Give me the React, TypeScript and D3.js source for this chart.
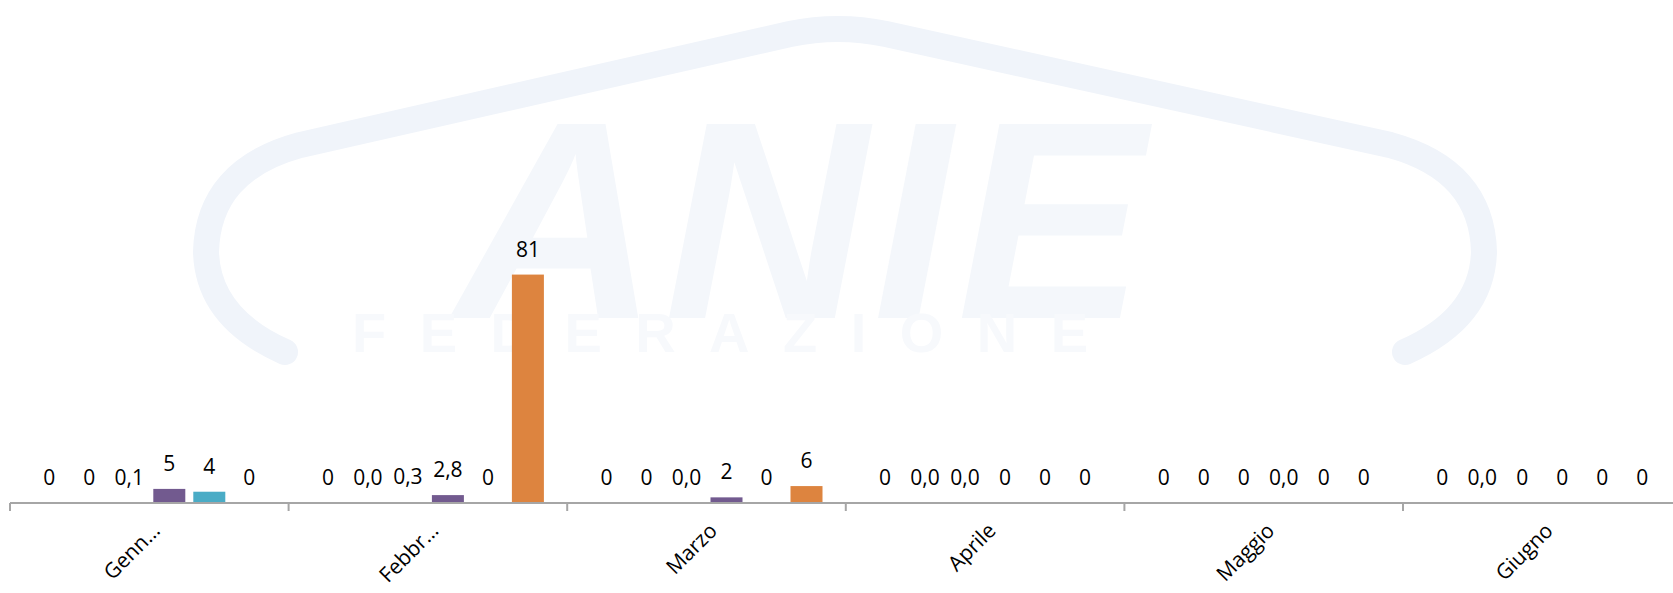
import React from "react";
import * as d3 from "d3";

const categories = ["Genn…", "Febbr…", "Marzo", "Aprile", "Maggio", "Giugno"];
const seriesNames = ["Serie 1", "Serie 2", "Serie 3", "Serie 4", "Serie 5", "Serie 6"];
const seriesColors = ["#4a7ebb", "#be4b48", "#98b954", "#725a8f", "#4aacc6", "#dd843f"];

// values per series, one entry per month
const serie1 = [0, 0, 0, 0, 0, 0];
const serie2 = [0, 0.02, 0, 0.02, 0, 0.02];
const serie3 = [0.1, 0.3, 0.02, 0.02, 0, 0];
const serie4 = [5, 2.8, 2, 0, 0.02, 0];
const serie5 = [4, 0, 0, 0, 0, 0];
const serie6 = [0, 81, 6, 0, 0, 0];

// data labels as shown in the chart
const labels1 = ["0", "0", "0", "0", "0", "0"];
const labels2 = ["0", "0,0", "0", "0,0", "0", "0,0"];
const labels3 = ["0,1", "0,3", "0,0", "0,0", "0", "0"];
const labels4 = ["5", "2,8", "2", "0", "0,0", "0"];
const labels5 = ["4", "0", "0", "0", "0", "0"];
const labels6 = ["0", "81", "6", "0", "0", "0"];

const values = [serie1, serie2, serie3, serie4, serie5, serie6];
const labels = [labels1, labels2, labels3, labels4, labels5, labels6];

const W = 1673;
const H = 593;
const left = 10;
const step = 278.6;
const baseY = 503;

const font = "'Open Sans', 'Liberation Sans', sans-serif";

const Watermark = () => (
  <g>
    <path
      d="M285,352 Q208,318 206,252 Q208,170 300,145 L790,34 Q838,24 886,34 L1390,145 Q1482,170 1484,252 Q1482,318 1405,352"
      fill="none"
      stroke="#f0f4fa"
      strokeWidth={26}
      strokeLinecap="round"
    />
    <text
      x={455}
      y={318}
      fontFamily="'Liberation Sans', sans-serif"
      fontWeight="bold"
      fontStyle="italic"
      fontSize={282}
      fill="#f4f7fb"
      textLength={690}
    >
      ANIE
    </text>
    <text
      x={352}
      y={352}
      fontFamily="'Liberation Sans', sans-serif"
      fontWeight="bold"
      fontSize={56}
      fill="#f7f9fc"
      textLength={736}
    >
      FEDERAZIONE
    </text>
  </g>
);

export default function App() {
  const x0 = d3
    .scaleBand<string>()
    .domain(categories)
    .range([left, left + step * categories.length]);

  const x1 = d3
    .scaleBand<string>()
    .domain(seriesNames)
    .range([0, x0.bandwidth()])
    .paddingInner(0.2)
    .paddingOuter(0.5825);

  const y = d3.scaleLinear().domain([0, 100]).range([baseY, 221]);

  const tickXs = categories.map((c) => x0(c) as number);

  return (
    <svg
      width={W}
      height={H}
      style={{ position: "absolute", left: 0, top: 0, display: "block", background: "#fff" }}
    >
      <Watermark />
      {categories.map((cat, ci) => (
        <g key={cat} transform={`translate(${x0(cat)},0)`}>
          {seriesNames.map((s, si) => {
            const v = values[si][ci];
            const bx = x1(s) as number;
            const top = y(v);
            return (
              <g key={s}>
                <rect
                  x={bx}
                  y={top}
                  width={x1.bandwidth()}
                  height={baseY - top}
                  fill={seriesColors[si]}
                />
                <text
                  x={bx + x1.bandwidth() / 2}
                  y={top - 18}
                  textAnchor="middle"
                  fontFamily={font}
                  fontSize={21}
                  fill="#000"
                >
                  {labels[si][ci]}
                </text>
              </g>
            );
          })}
        </g>
      ))}
      <line x1={left} x2={W} y1={baseY} y2={baseY} stroke="#a6a6a6" strokeWidth={2} />
      {tickXs.map((tx, i) => (
        <line key={i} x1={tx} x2={tx} y1={baseY} y2={baseY + 8} stroke="#a6a6a6" strokeWidth={2} />
      ))}
      {categories.map((cat) => {
        const cx = (x0(cat) as number) + x0.bandwidth() / 2;
        return (
          <text
            key={cat}
            transform={`translate(${cx + 12},${532}) rotate(-45)`}
            textAnchor="end"
            fontFamily={font}
            fontSize={21}
            fill="#000"
          >
            {cat}
          </text>
        );
      })}
    </svg>
  );
}
